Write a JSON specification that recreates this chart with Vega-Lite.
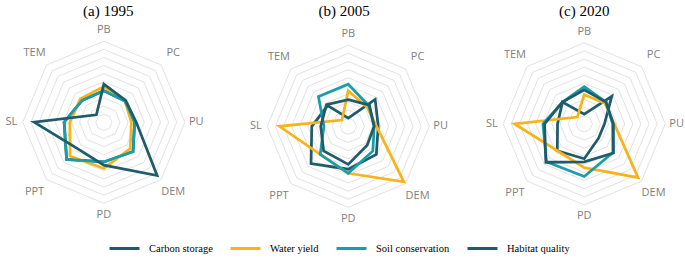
{
  "$schema": "https://vega.github.io/schema/vega-lite/v6.json",
  "padding": {"left": 5, "top": 4, "right": 0, "bottom": 0},
  "background": "white",
  "config": {
    "view": {"stroke": null},
    "title": {"font": "Liberation Serif", "fontSize": 15, "fontWeight": "normal", "color": "#000000", "offset": 2},
    "concat": {"spacing": 35},
    "scale": {"zero": false},
    "legend": {"gridAlign": "none"}
  },
  "datasets": {
    "grid": [
      {"a":"PB","r":0.1},{"a":"PC","r":0.1},{"a":"PU","r":0.1},{"a":"DEM","r":0.1},{"a":"PD","r":0.1},{"a":"PPT","r":0.1},{"a":"SL","r":0.1},{"a":"TEM","r":0.1},
      {"a":"PB","r":0.2},{"a":"PC","r":0.2},{"a":"PU","r":0.2},{"a":"DEM","r":0.2},{"a":"PD","r":0.2},{"a":"PPT","r":0.2},{"a":"SL","r":0.2},{"a":"TEM","r":0.2},
      {"a":"PB","r":0.3},{"a":"PC","r":0.3},{"a":"PU","r":0.3},{"a":"DEM","r":0.3},{"a":"PD","r":0.3},{"a":"PPT","r":0.3},{"a":"SL","r":0.3},{"a":"TEM","r":0.3},
      {"a":"PB","r":0.4},{"a":"PC","r":0.4},{"a":"PU","r":0.4},{"a":"DEM","r":0.4},{"a":"PD","r":0.4},{"a":"PPT","r":0.4},{"a":"SL","r":0.4},{"a":"TEM","r":0.4},
      {"a":"PB","r":0.5},{"a":"PC","r":0.5},{"a":"PU","r":0.5},{"a":"DEM","r":0.5},{"a":"PD","r":0.5},{"a":"PPT","r":0.5},{"a":"SL","r":0.5},{"a":"TEM","r":0.5},
      {"a":"PB","r":0.6},{"a":"PC","r":0.6},{"a":"PU","r":0.6},{"a":"DEM","r":0.6},{"a":"PD","r":0.6},{"a":"PPT","r":0.6},{"a":"SL","r":0.6},{"a":"TEM","r":0.6},
      {"a":"PB","r":0.7},{"a":"PC","r":0.7},{"a":"PU","r":0.7},{"a":"DEM","r":0.7},{"a":"PD","r":0.7},{"a":"PPT","r":0.7},{"a":"SL","r":0.7},{"a":"TEM","r":0.7},
      {"a":"PB","r":0.8},{"a":"PC","r":0.8},{"a":"PU","r":0.8},{"a":"DEM","r":0.8},{"a":"PD","r":0.8},{"a":"PPT","r":0.8},{"a":"SL","r":0.8},{"a":"TEM","r":0.8},
      {"a":"PB","r":0.9},{"a":"PC","r":0.9},{"a":"PU","r":0.9},{"a":"DEM","r":0.9},{"a":"PD","r":0.9},{"a":"PPT","r":0.9},{"a":"SL","r":0.9},{"a":"TEM","r":0.9},
      {"a":"PB","r":1.0},{"a":"PC","r":1.0},{"a":"PU","r":1.0},{"a":"DEM","r":1.0},{"a":"PD","r":1.0},{"a":"PPT","r":1.0},{"a":"SL","r":1.0},{"a":"TEM","r":1.0}
    ],
    "labels": [
      {"a":"PB"},{"a":"PC"},{"a":"PU"},{"a":"DEM"},{"a":"PD"},{"a":"PPT"},{"a":"SL"},{"a":"TEM"}
    ],
    "series": [
      {"p":"1995","s":"Carbon storage","a":"PB","v":0.39},{"p":"1995","s":"Carbon storage","a":"PC","v":0.37},{"p":"1995","s":"Carbon storage","a":"PU","v":0.38},{"p":"1995","s":"Carbon storage","a":"DEM","v":0.51},{"p":"1995","s":"Carbon storage","a":"PD","v":0.49},{"p":"1995","s":"Carbon storage","a":"PPT","v":0.65},{"p":"1995","s":"Carbon storage","a":"SL","v":0.49},{"p":"1995","s":"Carbon storage","a":"TEM","v":0.38},
      {"p":"1995","s":"Water yield","a":"PB","v":0.44},{"p":"1995","s":"Water yield","a":"PC","v":0.37},{"p":"1995","s":"Water yield","a":"PU","v":0.34},{"p":"1995","s":"Water yield","a":"DEM","v":0.46},{"p":"1995","s":"Water yield","a":"PD","v":0.57},{"p":"1995","s":"Water yield","a":"PPT","v":0.59},{"p":"1995","s":"Water yield","a":"SL","v":0.42},{"p":"1995","s":"Water yield","a":"TEM","v":0.41},
      {"p":"1995","s":"Soil conservation","a":"PB","v":0.39},{"p":"1995","s":"Soil conservation","a":"PC","v":0.37},{"p":"1995","s":"Soil conservation","a":"PU","v":0.38},{"p":"1995","s":"Soil conservation","a":"DEM","v":0.51},{"p":"1995","s":"Soil conservation","a":"PD","v":0.49},{"p":"1995","s":"Soil conservation","a":"PPT","v":0.65},{"p":"1995","s":"Soil conservation","a":"SL","v":0.49},{"p":"1995","s":"Soil conservation","a":"TEM","v":0.38},
      {"p":"1995","s":"Habitat quality","a":"PB","v":0.47},{"p":"1995","s":"Habitat quality","a":"PC","v":0.38},{"p":"1995","s":"Habitat quality","a":"PU","v":0.40},{"p":"1995","s":"Habitat quality","a":"DEM","v":0.93},{"p":"1995","s":"Habitat quality","a":"PD","v":0.53},{"p":"1995","s":"Habitat quality","a":"PPT","v":0.46},{"p":"1995","s":"Habitat quality","a":"SL","v":0.86},{"p":"1995","s":"Habitat quality","a":"TEM","v":0.13},

      {"p":"2005","s":"Carbon storage","a":"PB","v":0.10},{"p":"2005","s":"Carbon storage","a":"PC","v":0.47},{"p":"2005","s":"Carbon storage","a":"PU","v":0.37},{"p":"2005","s":"Carbon storage","a":"DEM","v":0.49},{"p":"2005","s":"Carbon storage","a":"PD","v":0.53},{"p":"2005","s":"Carbon storage","a":"PPT","v":0.65},{"p":"2005","s":"Carbon storage","a":"SL","v":0.45},{"p":"2005","s":"Carbon storage","a":"TEM","v":0.36},
      {"p":"2005","s":"Water yield","a":"PB","v":0.44},{"p":"2005","s":"Water yield","a":"PC","v":0.33},{"p":"2005","s":"Water yield","a":"PU","v":0.35},{"p":"2005","s":"Water yield","a":"DEM","v":0.97},{"p":"2005","s":"Water yield","a":"PD","v":0.58},{"p":"2005","s":"Water yield","a":"PPT","v":0.49},{"p":"2005","s":"Water yield","a":"SL","v":0.85},{"p":"2005","s":"Water yield","a":"TEM","v":0.11},
      {"p":"2005","s":"Soil conservation","a":"PB","v":0.52},{"p":"2005","s":"Soil conservation","a":"PC","v":0.36},{"p":"2005","s":"Soil conservation","a":"PU","v":0.32},{"p":"2005","s":"Soil conservation","a":"DEM","v":0.43},{"p":"2005","s":"Soil conservation","a":"PD","v":0.58},{"p":"2005","s":"Soil conservation","a":"PPT","v":0.49},{"p":"2005","s":"Soil conservation","a":"SL","v":0.30},{"p":"2005","s":"Soil conservation","a":"TEM","v":0.52},
      {"p":"2005","s":"Habitat quality","a":"PB","v":0.33},{"p":"2005","s":"Habitat quality","a":"PC","v":0.37},{"p":"2005","s":"Habitat quality","a":"PU","v":0.32},{"p":"2005","s":"Habitat quality","a":"DEM","v":0.33},{"p":"2005","s":"Habitat quality","a":"PD","v":0.47},{"p":"2005","s":"Habitat quality","a":"PPT","v":0.43},{"p":"2005","s":"Habitat quality","a":"SL","v":0.34},{"p":"2005","s":"Habitat quality","a":"TEM","v":0.38},

      {"p":"2020","s":"Carbon storage","a":"PB","v":0.12},{"p":"2020","s":"Carbon storage","a":"PC","v":0.48},{"p":"2020","s":"Carbon storage","a":"PU","v":0.25},{"p":"2020","s":"Carbon storage","a":"DEM","v":0.25},{"p":"2020","s":"Carbon storage","a":"PD","v":0.43},{"p":"2020","s":"Carbon storage","a":"PPT","v":0.47},{"p":"2020","s":"Carbon storage","a":"SL","v":0.33},{"p":"2020","s":"Carbon storage","a":"TEM","v":0.38},
      {"p":"2020","s":"Water yield","a":"PB","v":0.36},{"p":"2020","s":"Water yield","a":"PC","v":0.36},{"p":"2020","s":"Water yield","a":"PU","v":0.37},{"p":"2020","s":"Water yield","a":"DEM","v":0.94},{"p":"2020","s":"Water yield","a":"PD","v":0.54},{"p":"2020","s":"Water yield","a":"PPT","v":0.47},{"p":"2020","s":"Water yield","a":"SL","v":0.86},{"p":"2020","s":"Water yield","a":"TEM","v":0.12},
      {"p":"2020","s":"Soil conservation","a":"PB","v":0.46},{"p":"2020","s":"Soil conservation","a":"PC","v":0.38},{"p":"2020","s":"Soil conservation","a":"PU","v":0.35},{"p":"2020","s":"Soil conservation","a":"DEM","v":0.50},{"p":"2020","s":"Soil conservation","a":"PD","v":0.65},{"p":"2020","s":"Soil conservation","a":"PPT","v":0.66},{"p":"2020","s":"Soil conservation","a":"SL","v":0.51},{"p":"2020","s":"Soil conservation","a":"TEM","v":0.38},
      {"p":"2020","s":"Habitat quality","a":"PB","v":0.42},{"p":"2020","s":"Habitat quality","a":"PC","v":0.38},{"p":"2020","s":"Habitat quality","a":"PU","v":0.36},{"p":"2020","s":"Habitat quality","a":"DEM","v":0.51},{"p":"2020","s":"Habitat quality","a":"PD","v":0.47},{"p":"2020","s":"Habitat quality","a":"PPT","v":0.67},{"p":"2020","s":"Habitat quality","a":"SL","v":0.49},{"p":"2020","s":"Habitat quality","a":"TEM","v":0.38}
    ]
  },
  "hconcat": [
    {
      "width": 206.6, "height": 202.5,
      "title": {"text": "(a) 1995"},
      "layer": [
        {
          "data": {"name": "grid"},
          "transform": [
            {"calculate": "indexof(['PB','PC','PU','DEM','PD','PPT','SL','TEM'], datum.a)", "as": "k"},
            {"calculate": "datum.r*sin(datum.k*PI/4)", "as": "x"},
            {"calculate": "datum.r*cos(datum.k*PI/4)", "as": "y"}
          ],
          "mark": {"type": "line", "interpolate": "linear-closed", "stroke": "#e2e2e2", "strokeWidth": 1},
          "encoding": {
            "x": {"field": "x", "type": "quantitative", "scale": {"domain": [-1.22, 1.33], "nice": false}, "axis": null},
            "y": {"field": "y", "type": "quantitative", "scale": {"domain": [-1.25, 1.25], "nice": false}, "axis": null},
            "detail": {"field": "r", "type": "nominal"},
            "order": {"field": "k", "type": "quantitative"}
          }
        },
        {
          "data": {"name": "labels"},
          "transform": [
            {"calculate": "indexof(['PB','PC','PU','DEM','PD','PPT','SL','TEM'], datum.a)", "as": "k"},
            {"calculate": "datum.k % 2 == 1 ? 1.21 : 1.14", "as": "r"},
            {"calculate": "datum.r*sin(datum.k*PI/4)", "as": "x"},
            {"calculate": "datum.r*cos(datum.k*PI/4)", "as": "y"}
          ],
          "mark": {"type": "text", "font": "Open Sans", "fontSize": 11, "color": "#808080", "align": "center", "baseline": "middle"},
          "encoding": {
            "x": {"field": "x", "type": "quantitative", "scale": {"domain": [-1.22, 1.33], "nice": false}, "axis": null},
            "y": {"field": "y", "type": "quantitative", "scale": {"domain": [-1.25, 1.25], "nice": false}, "axis": null},
            "text": {"field": "a", "type": "nominal"}
          }
        },
        {
          "data": {"name": "series"},
          "transform": [
            {"filter": "datum.p == '1995'"},
            {"calculate": "indexof(['PB','PC','PU','DEM','PD','PPT','SL','TEM'], datum.a)", "as": "k"},
            {"calculate": "datum.v*sin(datum.k*PI/4)", "as": "x"},
            {"calculate": "datum.v*cos(datum.k*PI/4)", "as": "y"}
          ],
          "mark": {"type": "line", "interpolate": "linear-closed", "strokeWidth": 2.75},
          "encoding": {
            "x": {"field": "x", "type": "quantitative", "scale": {"domain": [-1.22, 1.33], "nice": false}, "axis": null},
            "y": {"field": "y", "type": "quantitative", "scale": {"domain": [-1.25, 1.25], "nice": false}, "axis": null},
            "color": {"field": "s", "type": "nominal",
              "scale": {"domain": ["Carbon storage", "Water yield", "Soil conservation", "Habitat quality"], "range": ["#1f5b6b", "#f8b31b", "#1a9dab", "#1f5b6b"]},
              "legend": {"orient": "none", "legendX": 103, "legendY": 211, "direction": "horizontal", "title": null, "symbolType": "stroke", "symbolSize": 900, "symbolStrokeWidth": 3, "labelFont": "Liberation Serif", "labelFontSize": 10.5, "labelColor": "#000000", "columnPadding": 11, "labelOffset": 8, "gridAlign": "none"}},
            "order": {"field": "k", "type": "quantitative"}
          }
        }
      ]
    },
    {
      "width": 194.4, "height": 202.5,
      "title": {"text": "(b) 2005"},
      "layer": [
        {
          "data": {"name": "grid"},
          "transform": [
            {"calculate": "indexof(['PB','PC','PU','DEM','PD','PPT','SL','TEM'], datum.a)", "as": "k"},
            {"calculate": "datum.r*sin(datum.k*PI/4)", "as": "x"},
            {"calculate": "datum.r*cos(datum.k*PI/4)", "as": "y"}
          ],
          "mark": {"type": "line", "interpolate": "linear-closed", "stroke": "#e2e2e2", "strokeWidth": 1},
          "encoding": {
            "x": {"field": "x", "type": "quantitative", "scale": {"domain": [-1.25, 1.15], "nice": false}, "axis": null},
            "y": {"field": "y", "type": "quantitative", "scale": {"domain": [-1.2, 1.3], "nice": false}, "axis": null},
            "detail": {"field": "r", "type": "nominal"},
            "order": {"field": "k", "type": "quantitative"}
          }
        },
        {
          "data": {"name": "labels"},
          "transform": [
            {"calculate": "indexof(['PB','PC','PU','DEM','PD','PPT','SL','TEM'], datum.a)", "as": "k"},
            {"calculate": "datum.k % 2 == 1 ? 1.21 : 1.14", "as": "r"},
            {"calculate": "datum.r*sin(datum.k*PI/4)", "as": "x"},
            {"calculate": "datum.r*cos(datum.k*PI/4)", "as": "y"}
          ],
          "mark": {"type": "text", "font": "Open Sans", "fontSize": 11, "color": "#808080", "align": "center", "baseline": "middle"},
          "encoding": {
            "x": {"field": "x", "type": "quantitative", "scale": {"domain": [-1.25, 1.15], "nice": false}, "axis": null},
            "y": {"field": "y", "type": "quantitative", "scale": {"domain": [-1.2, 1.3], "nice": false}, "axis": null},
            "text": {"field": "a", "type": "nominal"}
          }
        },
        {
          "data": {"name": "series"},
          "transform": [
            {"filter": "datum.p == '2005'"},
            {"calculate": "indexof(['PB','PC','PU','DEM','PD','PPT','SL','TEM'], datum.a)", "as": "k"},
            {"calculate": "datum.v*sin(datum.k*PI/4)", "as": "x"},
            {"calculate": "datum.v*cos(datum.k*PI/4)", "as": "y"}
          ],
          "mark": {"type": "line", "interpolate": "linear-closed", "strokeWidth": 2.75},
          "encoding": {
            "x": {"field": "x", "type": "quantitative", "scale": {"domain": [-1.25, 1.15], "nice": false}, "axis": null},
            "y": {"field": "y", "type": "quantitative", "scale": {"domain": [-1.2, 1.3], "nice": false}, "axis": null},
            "color": {"field": "s", "type": "nominal",
              "scale": {"domain": ["Carbon storage", "Water yield", "Soil conservation", "Habitat quality"], "range": ["#1f5b6b", "#f8b31b", "#1a9dab", "#1f5b6b"]},
              "legend": {"orient": "none", "legendX": 103, "legendY": 211, "direction": "horizontal", "title": null, "symbolType": "stroke", "symbolSize": 900, "symbolStrokeWidth": 3, "labelFont": "Liberation Serif", "labelFontSize": 10.5, "labelColor": "#000000", "columnPadding": 11, "labelOffset": 8, "gridAlign": "none"}},
            "order": {"field": "k", "type": "quantitative"}
          }
        }
      ]
    },
    {
      "width": 202.5, "height": 202.5,
      "title": {"text": "(c) 2020"},
      "layer": [
        {
          "data": {"name": "grid"},
          "transform": [
            {"calculate": "indexof(['PB','PC','PU','DEM','PD','PPT','SL','TEM'], datum.a)", "as": "k"},
            {"calculate": "datum.r*sin(datum.k*PI/4)", "as": "x"},
            {"calculate": "datum.r*cos(datum.k*PI/4)", "as": "y"}
          ],
          "mark": {"type": "line", "interpolate": "linear-closed", "stroke": "#e2e2e2", "strokeWidth": 1},
          "encoding": {
            "x": {"field": "x", "type": "quantitative", "scale": {"domain": [-1.25, 1.25], "nice": false}, "axis": null},
            "y": {"field": "y", "type": "quantitative", "scale": {"domain": [-1.23, 1.27], "nice": false}, "axis": null},
            "detail": {"field": "r", "type": "nominal"},
            "order": {"field": "k", "type": "quantitative"}
          }
        },
        {
          "data": {"name": "labels"},
          "transform": [
            {"calculate": "indexof(['PB','PC','PU','DEM','PD','PPT','SL','TEM'], datum.a)", "as": "k"},
            {"calculate": "datum.k % 2 == 1 ? 1.21 : 1.14", "as": "r"},
            {"calculate": "datum.r*sin(datum.k*PI/4)", "as": "x"},
            {"calculate": "datum.r*cos(datum.k*PI/4)", "as": "y"}
          ],
          "mark": {"type": "text", "font": "Open Sans", "fontSize": 11, "color": "#808080", "align": "center", "baseline": "middle"},
          "encoding": {
            "x": {"field": "x", "type": "quantitative", "scale": {"domain": [-1.25, 1.25], "nice": false}, "axis": null},
            "y": {"field": "y", "type": "quantitative", "scale": {"domain": [-1.23, 1.27], "nice": false}, "axis": null},
            "text": {"field": "a", "type": "nominal"}
          }
        },
        {
          "data": {"name": "series"},
          "transform": [
            {"filter": "datum.p == '2020'"},
            {"calculate": "indexof(['PB','PC','PU','DEM','PD','PPT','SL','TEM'], datum.a)", "as": "k"},
            {"calculate": "datum.v*sin(datum.k*PI/4)", "as": "x"},
            {"calculate": "datum.v*cos(datum.k*PI/4)", "as": "y"}
          ],
          "mark": {"type": "line", "interpolate": "linear-closed", "strokeWidth": 2.75},
          "encoding": {
            "x": {"field": "x", "type": "quantitative", "scale": {"domain": [-1.25, 1.25], "nice": false}, "axis": null},
            "y": {"field": "y", "type": "quantitative", "scale": {"domain": [-1.23, 1.27], "nice": false}, "axis": null},
            "color": {"field": "s", "type": "nominal",
              "scale": {"domain": ["Carbon storage", "Water yield", "Soil conservation", "Habitat quality"], "range": ["#1f5b6b", "#f8b31b", "#1a9dab", "#1f5b6b"]},
              "legend": {"orient": "none", "legendX": 103, "legendY": 211, "direction": "horizontal", "title": null, "symbolType": "stroke", "symbolSize": 900, "symbolStrokeWidth": 3, "labelFont": "Liberation Serif", "labelFontSize": 10.5, "labelColor": "#000000", "columnPadding": 11, "labelOffset": 8, "gridAlign": "none"}},
            "order": {"field": "k", "type": "quantitative"}
          }
        }
      ]
    }
  ]
}
